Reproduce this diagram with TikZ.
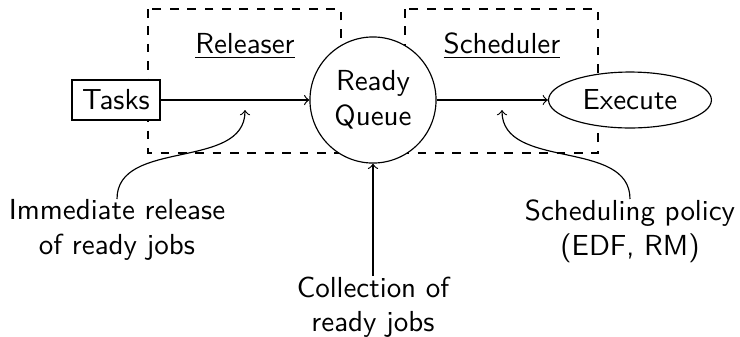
\documentclass[tikz,border=0pt]{standalone}
\usetikzlibrary{shapes.geometric}

\tikzset{
  stage/.style={draw, dashed},
  blockbox/.style={draw, fill=white, minimum width=30.4pt, minimum height=13.8pt, inner sep=2pt},
  queuenode/.style={draw, circle, fill=white, minimum size=43.5pt, inner sep=0pt, align=center},
  execnode/.style={draw, ellipse, fill=white, minimum width=56.2pt, minimum height=19.3pt, inner sep=0pt},
  note/.style={align=center, inner sep=0pt},
  flow/.style={->},
}

\begin{document}
\begin{tikzpicture}[x=0.345pt, y=-0.345pt, font=\sffamily]
  \useasboundingbox (0,0) rectangle (740,336);

  % the two stages around the queue
  \draw[stage] (148,9) rectangle (341,153);
  \draw[stage] (405,9) rectangle (598,153);
  \node[anchor=base] (relt) at (245,53) {\underline{Releaser}};
  \node[anchor=base] (scht) at (502,53) {\underline{Scheduler}};

  % main chain
  \node[blockbox] (tasks) at (116,100) {Tasks};
  \node[queuenode] (rq) at (373,100) {Ready\\Queue};
  \node[execnode] (exec) at (630,100) {Execute};

  \draw[flow] (tasks) -- (rq);
  \draw[flow] (rq) -- (exec);

  % annotations
  \node[note, anchor=north] (imm) at (117,199) {Immediate release\\of ready jobs};
  \node[note, anchor=north] (coll) at (373,276) {Collection of\\ready jobs};
  \node[note, anchor=north] (pol) at (630,199) {Scheduling policy\\(EDF, RM)};

  \coordinate (reltip) at (245,110);
  \coordinate (schtip) at (502,110);

  \draw[flow] (imm.north) to[out=90, in=-90] (reltip);
  \draw[flow] (pol.north) to[out=90, in=-90] (schtip);
  \draw[flow] (coll.north) -- (rq.south);
\end{tikzpicture}
\end{document}
